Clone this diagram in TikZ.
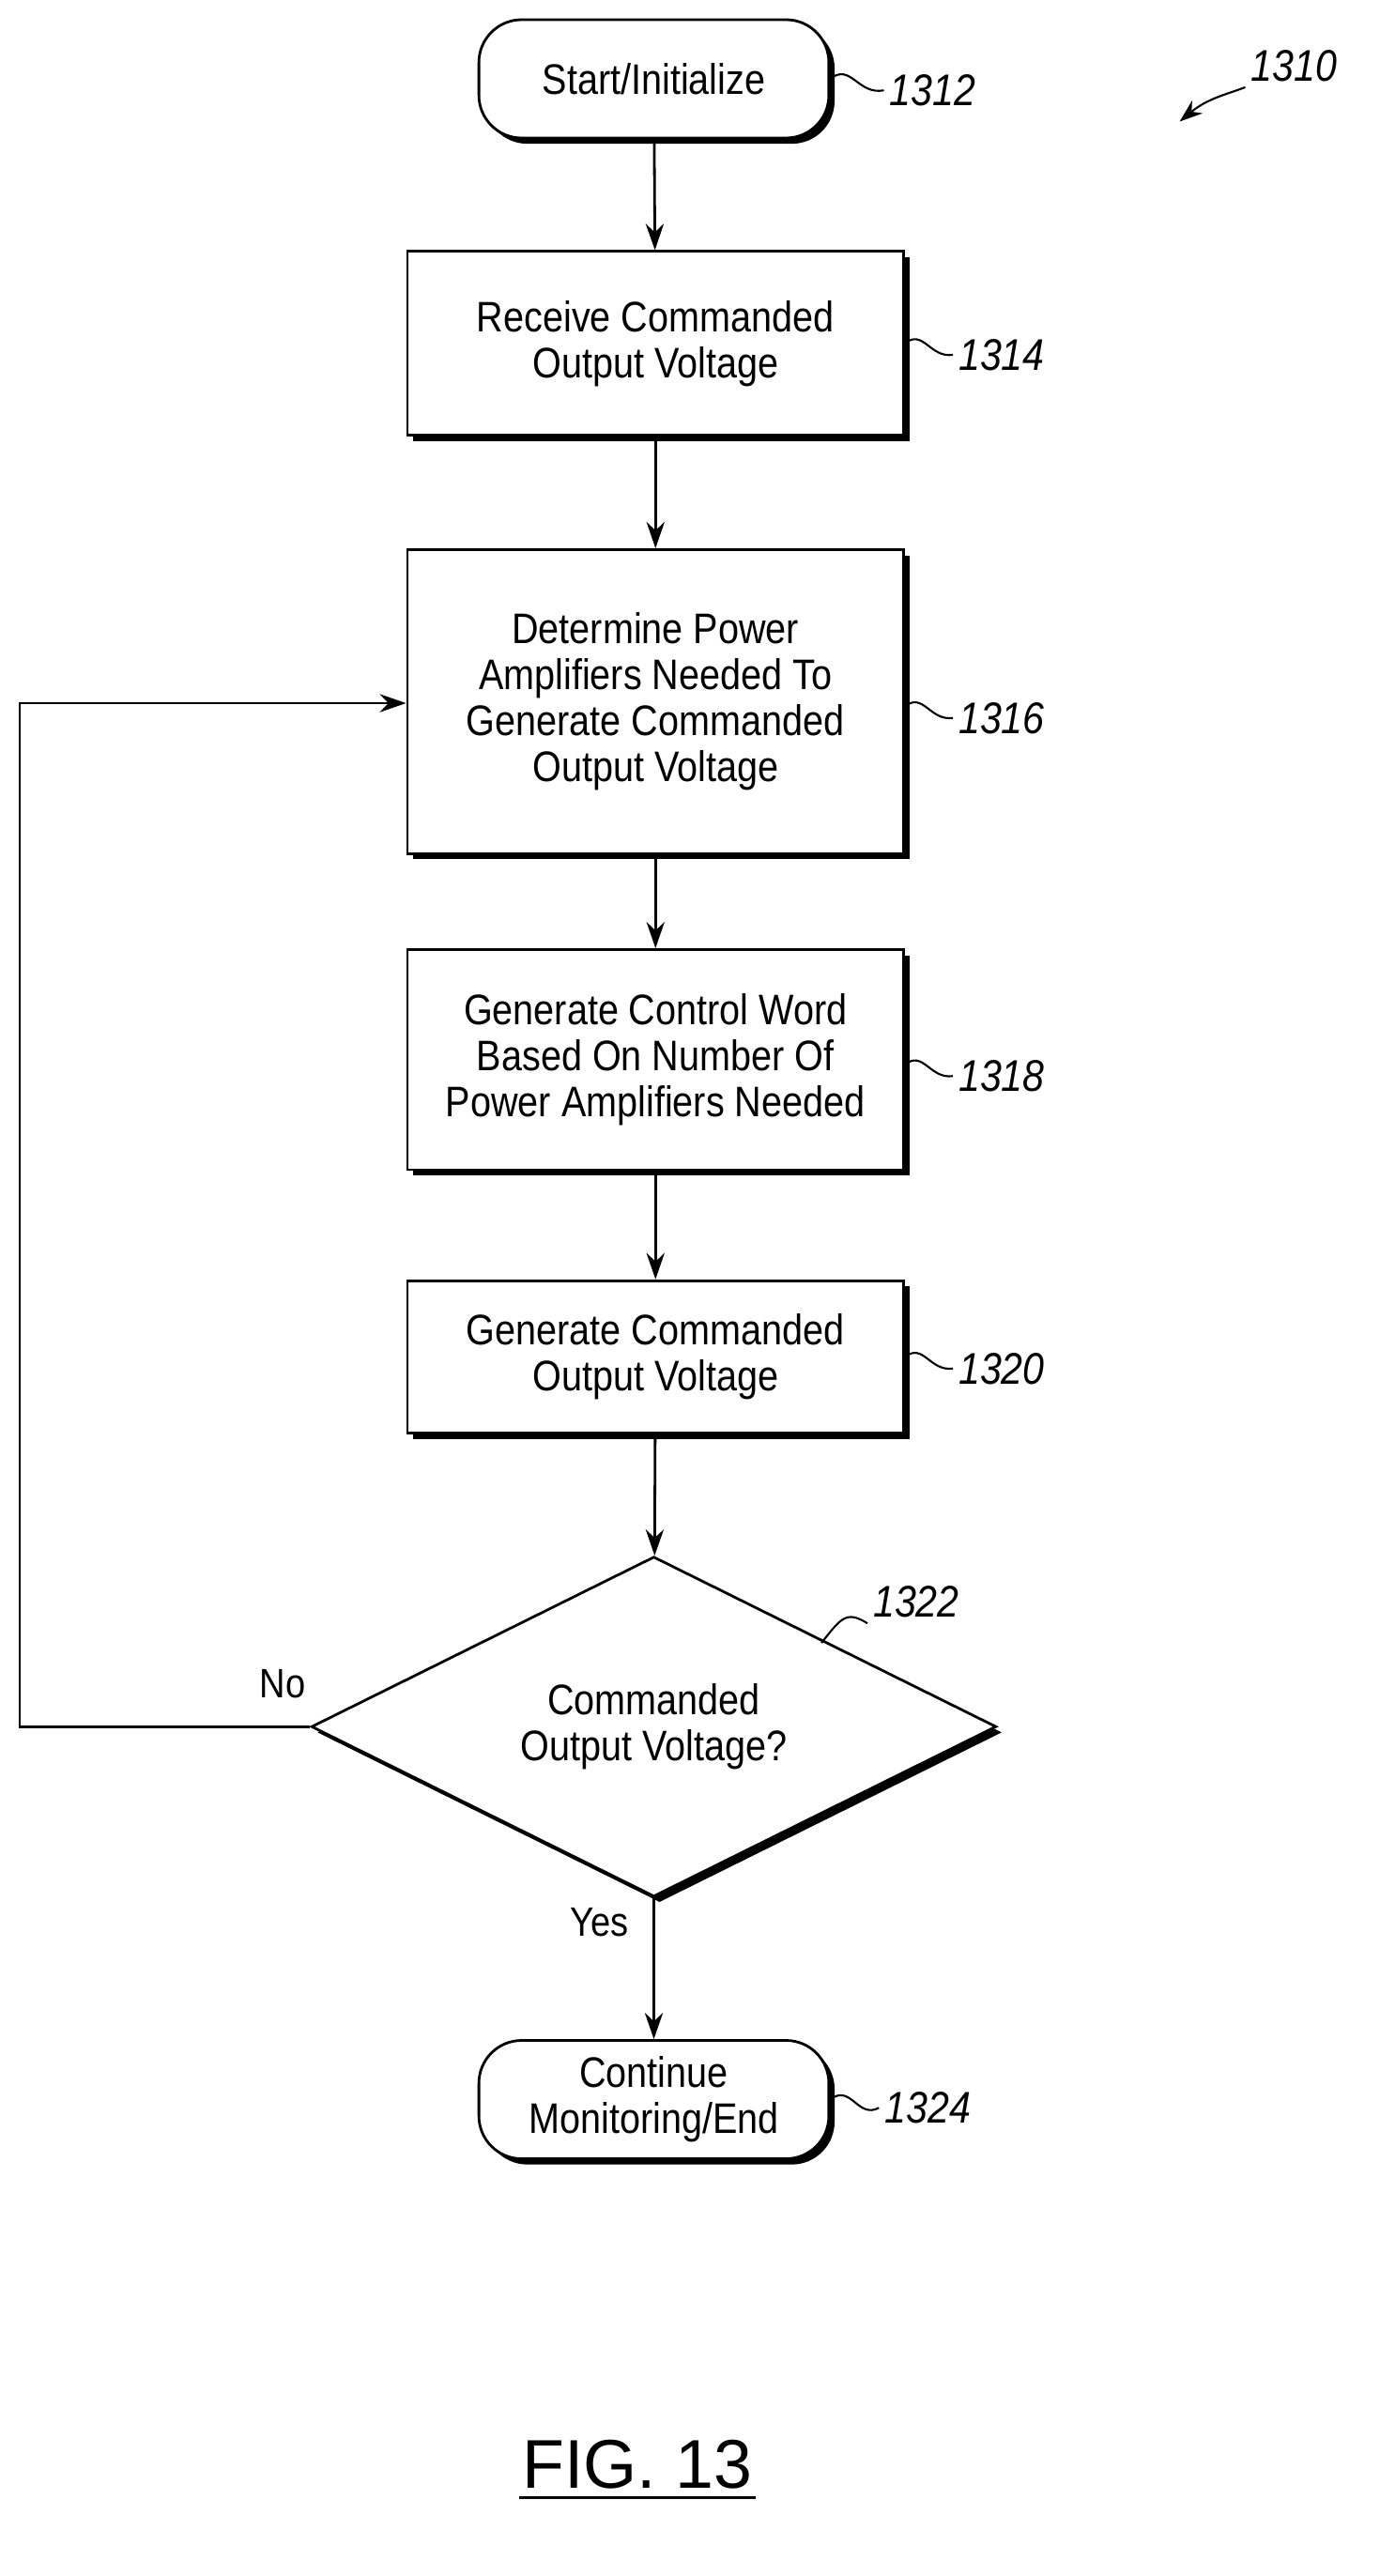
\documentclass[tikz,border=0pt]{standalone}
\usepackage{fontspec}
\setmainfont[FakeStretch=0.87]{Liberation Sans}
\newfontfamily\figfont{Liberation Sans}
\usetikzlibrary{shapes.geometric,shadows,arrows.meta}
\begin{document}
\begin{tikzpicture}[x=1pt,y=-1pt,
  sh/.style={drop shadow={shadow xshift=3.5pt,shadow yshift=-3.5pt,fill=black,opacity=1}},
  box/.style={draw,line width=1.6pt,fill=white,sh,align=center,font=\fontsize{26}{28}\selectfont,inner sep=0pt},
  term/.style={box,rounded corners=26pt},
  lbl/.style={font=\fontsize{27}{30}\selectfont\itshape,anchor=west},
  arr/.style={line width=1.6pt,-{Stealth[length=16pt,width=11pt]}},
  lead/.style={line width=1.2pt}]
\useasboundingbox (0,0) rectangle (840,1568);
\node[term,minimum width=213pt,minimum height=72pt] (s) at (398,48) {Start/Initialize};
\node[box,minimum width=302pt,minimum height=112pt] (b1) at (399,209) {Receive Commanded\\Output Voltage};
\node[box,minimum width=302pt,minimum height=185pt] (b2) at (399,427) {Determine Power\\Amplifiers Needed To\\Generate Commanded\\Output Voltage};
\node[box,minimum width=302pt,minimum height=134pt] (b3) at (399,645) {Generate Control Word\\Based On Number Of\\Power Amplifiers Needed};
\node[box,minimum width=302pt,minimum height=93pt] (b4) at (399,826) {Generate Commanded\\Output Voltage};
\node[box,diamond,aspect=2,minimum width=417pt,minimum height=207pt] (d) at (398,1051) {Commanded\\Output Voltage?};
\node[term,minimum width=213pt,minimum height=72pt] (e) at (398,1278) {Continue\\Monitoring/End};
\draw[arr] (s) -- (b1);
\draw[arr] (b1) -- (b2);
\draw[arr] (b2) -- (b3);
\draw[arr] (b3) -- (b4);
\draw[arr] (b4) -- (d);
\draw[arr] (d) -- (e);
\coordinate (c1) at (12,1051);
\coordinate (c2) at (12,428);
\draw[arr] (d.west) -- (c1) -- (c2) -- (c2 -| b2.west);
\node[font=\fontsize{25}{28}\selectfont] (no) at (172,1025) {No};
\node[font=\fontsize{25}{28}\selectfont] (yes) at (365,1170) {Yes};
\node[lbl] (l1) at (538,55) {1312};
\draw[lead] (s.east) .. controls (518,38) and (522,58) .. (l1.west);
\node[lbl] (l2) at (580,216) {1314};
\draw[lead] (b1.east|-0,209) .. controls (562,200) and (566,218) .. (l2.west);
\node[lbl] (l3) at (580,437) {1316};
\draw[lead] (b2.east|-0,430) .. controls (562,421) and (566,439) .. (l3.west);
\node[lbl] (l4) at (580,655) {1318};
\draw[lead] (b3.east|-0,648) .. controls (562,639) and (566,657) .. (l4.west);
\node[lbl] (l5) at (580,833) {1320};
\draw[lead] (b4.east|-0,826) .. controls (562,817) and (566,835) .. (l5.west);
\node[lbl] (l6) at (528,975) {1322};
\coordinate (p6) at (500,1000);
\draw[lead] (p6) .. controls (512,985) and (515,980) .. (l6.south west);
\node[lbl] (l7) at (535,1283) {1324};
\draw[lead] (e.east) .. controls (518,1268) and (522,1290) .. (l7.west);
\node[lbl] (l0) at (758,40) {1310};
\coordinate (t0) at (718,74);
\draw[lead,-{Stealth[length=14pt,width=10pt]}] (l0.south west) .. controls (745,58) and (735,60) .. (t0);
\node[font=\figfont\fontsize{42}{46}\selectfont,inner sep=2pt] (fig) at (388,1500) {FIG. 13};
\draw[line width=1.6pt] ([yshift=-3pt]fig.south west) -- ([yshift=-3pt]fig.south east);
\end{tikzpicture}
\end{document}
